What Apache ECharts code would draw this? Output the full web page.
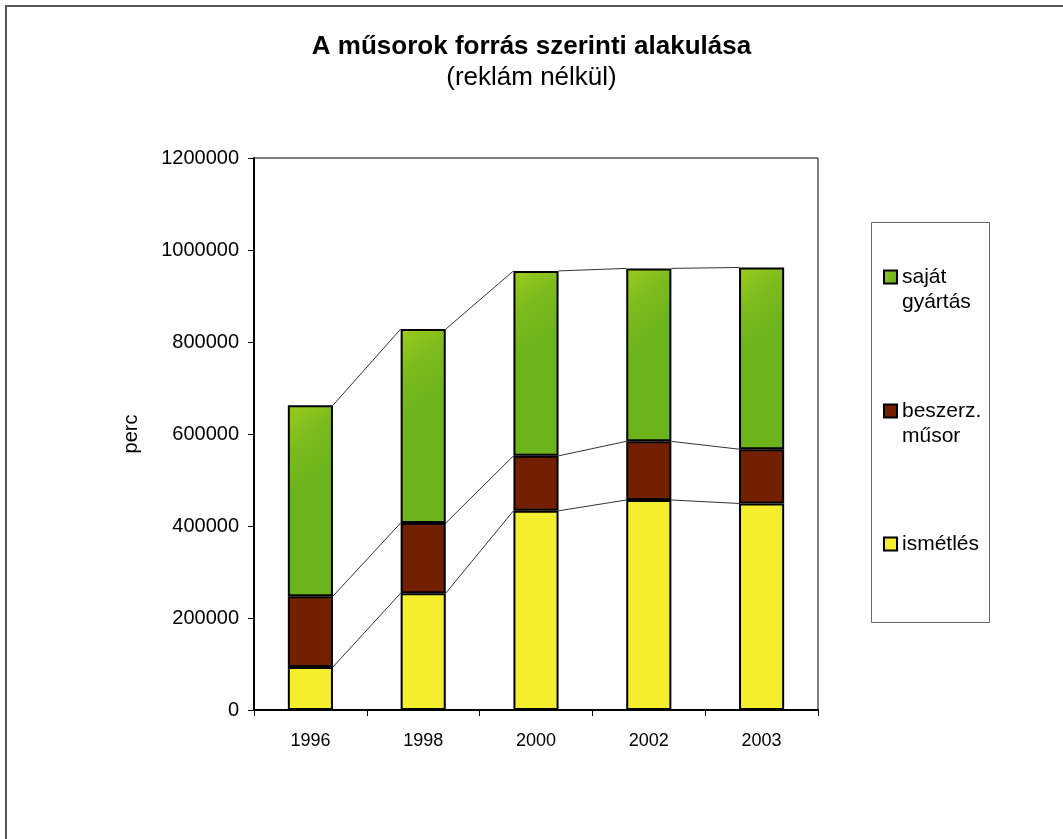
<!DOCTYPE html>
<html>
<head>
<meta charset="utf-8">
<script src="https://cdn.jsdelivr.net/npm/echarts@6/dist/echarts.min.js"></script>
<style>
html,body{margin:0;padding:0;background:#fff;}
#chart{width:1063px;height:839px;}
</style>
</head>
<body>
<div id="chart"></div>
<script>
var categories = ['1996', '1998', '2000', '2002', '2003'];
var ismetles = [93500, 254000, 433000, 456500, 449000];
var beszerz = [154000, 152500, 119500, 127500, 118000];
var sajat = [415000, 421500, 402000, 376000, 395000];
var seriesNames = ['ismétlés', 'beszerz. műsor', 'saját gyártás'];
var yTicks = [0, 200000, 400000, 600000, 800000, 1000000, 1200000];

var FONT = 'Liberation Sans, Arial, sans-serif';
var BAR_RATIO = 0.4;

function cumulative(arrs) {
  var out = [];
  var run = categories.map(function () { return 0; });
  arrs.forEach(function (a) {
    run = run.map(function (v, i) { return v + a[i]; });
    out.push(run.slice());
  });
  return out;
}
var cums = cumulative([ismetles, beszerz, sajat]);
var connectorData = [];
cums.forEach(function (c) {
  for (var i = 0; i < c.length - 1; i++) {
    connectorData.push([i, c[i], i + 1, c[i + 1]]);
  }
});

var chart = echarts.init(document.getElementById('chart'));

var barBorder = { borderColor: '#000', borderWidth: 2 };
var greenGrad = new echarts.graphic.LinearGradient(0, 0, 1, 0.3, [
  { offset: 0, color: '#9ccb1c' },
  { offset: 0.5, color: '#7cbb1d' },
  { offset: 1, color: '#6cb31c' }
]);

function legendFor(name, top, twoLine) {
  return {
    data: [{ name: name }],
    orient: 'vertical',
    left: 883,
    top: top,
    padding: 0,
    icon: 'rect',
    itemWidth: 13,
    itemHeight: 13,
    itemGap: 5,
    selectedMode: false,
    formatter: function (n) { return twoLine ? '\n' + n.replace(' ', '\n') : n; },
    textStyle: {
      fontFamily: FONT,
      fontSize: 21,
      color: '#000',
      lineHeight: 25
    }
  };
}

var option = {
  backgroundColor: '#fff',
  animation: false,
  title: {
    text: 'A műsorok forrás szerinti alakulása',
    subtext: '(reklám nélkül)',
    left: 'center',
    top: 29,
    itemGap: 5,
    textStyle: { fontFamily: FONT, fontSize: 26, fontWeight: 'bold', color: '#000' },
    subtextStyle: { fontFamily: FONT, fontSize: 26, color: '#000' }
  },
  graphic: [
    { type: 'rect', shape: { x: 6, y: 6, width: 1070, height: 840 }, style: { fill: 'none', stroke: '#555', lineWidth: 2 }, silent: true },
    { type: 'rect', shape: { x: 871.5, y: 222.5, width: 118, height: 400 }, style: { fill: 'none', stroke: '#666', lineWidth: 1 }, silent: true }
  ],
  legend: [
    legendFor(seriesNames[2], 239.5, true),
    legendFor(seriesNames[1], 373.5, true),
    legendFor(seriesNames[0], 531.5, false)
  ],
  grid: {
    left: 254, top: 158, right: 245, bottom: 129,
    show: true, borderColor: '#000', borderWidth: 1, backgroundColor: 'transparent'
  },
  xAxis: {
    type: 'category',
    data: categories,
    boundaryGap: true,
    axisLine: { lineStyle: { color: '#000', width: 2 } },
    axisTick: { show: true, length: 6, lineStyle: { color: '#000', width: 1 } },
    axisLabel: { fontFamily: FONT, fontSize: 18, color: '#000', margin: 22 }
  },
  yAxis: {
    type: 'value',
    min: 0,
    max: 1200000,
    interval: 200000,
    name: 'perc',
    nameLocation: 'middle',
    nameGap: 113,
    nameTextStyle: { fontFamily: FONT, fontSize: 20, color: '#000' },
    splitLine: { show: false },
    axisLine: { show: true, lineStyle: { color: '#000', width: 2 } },
    axisTick: { show: true, length: 6, lineStyle: { color: '#000', width: 1 } },
    axisLabel: {
      fontFamily: FONT, fontSize: 20, color: '#000', margin: 15,
      formatter: function (v) { return yTicks.indexOf(v) >= 0 ? String(v) : ''; }
    }
  },
  series: [
    {
      name: seriesNames[0], type: 'bar', stack: 'total', data: ismetles,
      barWidth: (BAR_RATIO * 100) + '%',
      itemStyle: Object.assign({ color: '#f5ee2e' }, barBorder)
    },
    {
      name: seriesNames[1], type: 'bar', stack: 'total', data: beszerz,
      barWidth: (BAR_RATIO * 100) + '%',
      itemStyle: Object.assign({ color: '#722000' }, barBorder)
    },
    {
      name: seriesNames[2], type: 'bar', stack: 'total', data: sajat,
      barWidth: (BAR_RATIO * 100) + '%',
      itemStyle: Object.assign({ color: greenGrad }, barBorder)
    },
    {
      name: 'connectors',
      type: 'custom',
      data: connectorData,
      encode: { x: 0, y: 1 },
      z: 5,
      silent: true,
      renderItem: function (params, api) {
        var p1 = api.coord([api.value(0), api.value(1)]);
        var p2 = api.coord([api.value(2), api.value(3)]);
        var half = api.size([1, 0])[0] * BAR_RATIO / 2;
        return {
          type: 'line',
          shape: { x1: p1[0] + half, y1: p1[1], x2: p2[0] - half, y2: p2[1] },
          style: { stroke: '#333', lineWidth: 1 }
        };
      }
    }
  ]
};
chart.setOption(option);
</script>
</body>
</html>
